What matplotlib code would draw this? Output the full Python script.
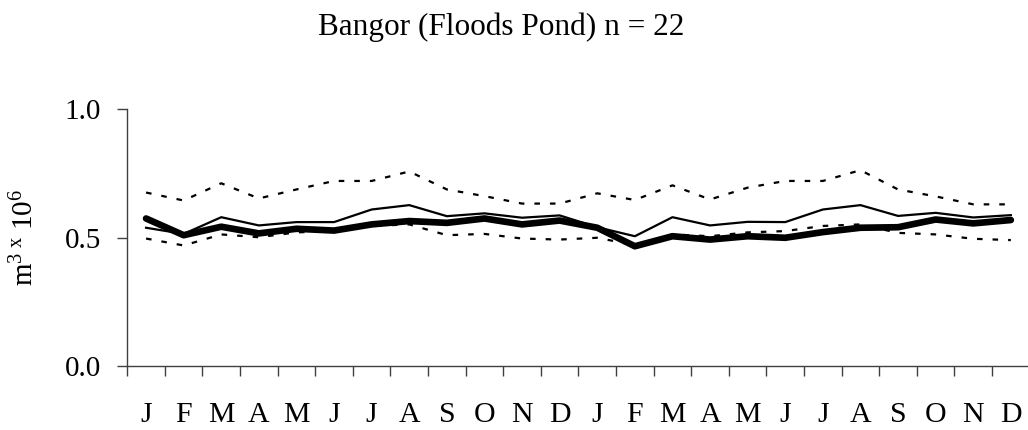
import numpy as np
import matplotlib
matplotlib.use("Agg")
import matplotlib.pyplot as plt

plt.rcParams['font.family'] = ['Liberation Serif', 'DejaVu Serif']
plt.rcParams['mathtext.fontset'] = 'custom'
plt.rcParams['mathtext.rm'] = 'Liberation Serif'
plt.rcParams['mathtext.it'] = 'Liberation Serif:italic'

months = ['J', 'F', 'M', 'A', 'M', 'J', 'J', 'A', 'S', 'O', 'N', 'D'] * 2

upper = [0.675, 0.644, 0.711, 0.652, 0.687, 0.720, 0.720, 0.757, 0.687, 0.661, 0.632, 0.632,
         0.672, 0.646, 0.703, 0.648, 0.694, 0.720, 0.720, 0.762, 0.687, 0.660, 0.629, 0.629]
mean = [0.538, 0.514, 0.579, 0.547, 0.560, 0.560, 0.609, 0.626, 0.583, 0.594, 0.577, 0.586,
        0.540, 0.505, 0.579, 0.547, 0.561, 0.560, 0.609, 0.626, 0.584, 0.596, 0.578, 0.587]
lower = [0.496, 0.469, 0.512, 0.501, 0.520, 0.525, 0.545, 0.551, 0.509, 0.514, 0.496, 0.492,
         0.499, 0.470, 0.512, 0.505, 0.520, 0.525, 0.545, 0.551, 0.518, 0.512, 0.495, 0.490]
actual = [0.574, 0.509, 0.542, 0.516, 0.534, 0.527, 0.551, 0.564, 0.557, 0.574, 0.551, 0.566,
          0.538, 0.466, 0.505, 0.492, 0.505, 0.499, 0.521, 0.538, 0.540, 0.570, 0.555, 0.568]

x = np.arange(len(months))

fig = plt.figure(figsize=(10.28, 4.30), dpi=100)
ax = fig.add_axes([0.1238, 0.1488, 0.8778, 0.5977])

dash = (0, (2.5, 4.5))
ax.plot(x, upper, color='black', lw=1.6, linestyle=dash)
ax.plot(x, lower, color='black', lw=1.6, linestyle=dash)
ax.plot(x, mean, color='black', lw=1.6)
ax.plot(x, actual, color='black', lw=4.8, solid_capstyle='round', solid_joinstyle='round')

ax.set_xlim(-0.5, len(months) - 0.5)
ax.set_ylim(0, 1.0)
ax.set_yticks([0.0, 0.5, 1.0])
ax.set_yticklabels(['0.0', '0.5', '1.0'])

ax.set_xticks(x)
ax.set_xticklabels(months)
ax.set_xticks(np.arange(-0.5, len(months), 1.0), minor=True)
ax.tick_params(axis='x', which='major', length=0, pad=26, labelsize=21.5)
ax.tick_params(axis='x', which='minor', length=7, width=1, color='#404040', direction='out')
ax.tick_params(axis='y', length=7, width=1, color='#404040', direction='out', pad=12, labelsize=21)

for s in ['top', 'right']:
    ax.spines[s].set_visible(False)
for s in ['left', 'bottom']:
    ax.spines[s].set_color('#404040')
    ax.spines[s].set_linewidth(1)

ax.set_ylabel(r'm$^{3\ \mathrm{x}}$ 10$^{6}$', fontsize=21, labelpad=18)

fig.text(0.488, 0.937, 'Bangor (Floods Pond) n = 22', ha='center', va='center', fontsize=22.5)

fig.savefig('out.png', dpi=100)
